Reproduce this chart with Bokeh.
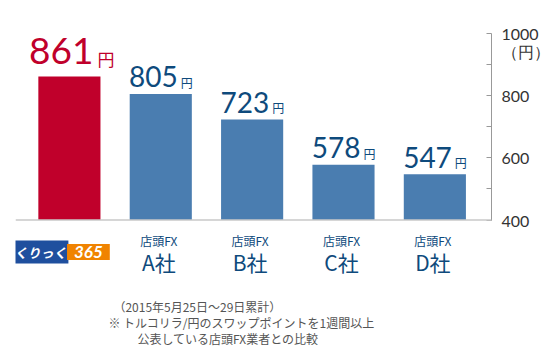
from bokeh.plotting import figure
from bokeh.models import Range1d, LinearAxis, FixedTicker, Span
from bokeh.core.properties import value
from bokeh.embed import file_html
from bokeh.resources import INLINE

# ---- data ----
categories = ["くりっく365", "店頭FX A社", "店頭FX B社", "店頭FX C社", "店頭FX D社"]
values = [861, 805, 723, 578, 547]
providers = ["", "店頭FX", "店頭FX", "店頭FX", "店頭FX"]
companies = ["", "A社", "B社", "C社", "D社"]
y_ticks = [400, 600, 800, 1000]
y_minor = [500, 700, 900]
unit = "円"
unit_label = "（円）"
logo_parts = ["くりっく", "365"]
footnotes = ["（2015年5月25日～29日累計）",
             "※ トルコリラ/円のスワップポイントを1週間以上",
             "公表している店頭FX業者との比較"]

# ---- style ----
RED = "#c0002b"
BLUE = "#4a7db0"
NAVY = "#0e4a7c"
GREY_TXT = "#555555"
JP = value("Noto Sans CJK JP")
NUM = value("Lato")

PX = (219.6 - 32.7) / (y_ticks[-1] - y_ticks[0])   # pixels per yen
y_start = y_ticks[0] - (353 - 219.6) / PX
y_end = y_ticks[-1] + 32.7 / PX

xs = list(range(len(categories)))
base = y_ticks[0]

p = figure(width=552, height=353, x_range=Range1d(-0.59, 4.62),
           y_range=Range1d(y_start, y_end), output_backend="svg",
           toolbar_location=None, x_axis_location=None, y_axis_location=None,
           min_border_left=15, min_border_right=60, min_border_top=0,
           min_border_bottom=0)
p.outline_line_color = None
p.background_fill_color = "white"
p.border_fill_color = "white"
for g in p.grid:
    g.visible = False

# bars
colors = [RED] + [BLUE] * (len(values) - 1)
p.vbar(x=xs, top=values, bottom=base, width=0.68, color=colors, line_color=None)

# baseline
p.add_layout(Span(location=base, dimension="width", line_color="#c8c8c8", line_width=1.5))

# right axis (unit caption rides on an extra label position just under the top tick)
unit_pos = round(y_ticks[-1] - 18.5 / PX)
ax = LinearAxis(ticker=FixedTicker(ticks=y_ticks + [unit_pos],
                                   minor_ticks=sorted(y_ticks + y_minor)),
                bounds=(y_ticks[0], y_ticks[-1]))
ax.major_label_overrides = {unit_pos: unit_label}
ax.axis_line_color = "#999999"
ax.minor_tick_line_color = "#999999"
ax.major_tick_line_color = None
ax.major_tick_in = 0
ax.major_tick_out = 0
ax.minor_tick_in = 5
ax.minor_tick_out = 0
ax.major_label_standoff = 10
ax.major_label_text_font = "Lato"
ax.major_label_text_font_size = "16px"
ax.major_label_text_color = "#333333"
p.add_layout(ax, "right")

# value labels
p.text(x=xs[:1], y=values[:1], text=[str(v) for v in values[:1]],
       text_align="right", text_baseline="middle", x_offset=24, y_offset=-25,
       text_font=NUM, text_font_size="37px", text_color=RED)
p.text(x=xs[:1], y=values[:1], text=[unit], text_align="left",
       text_baseline="middle", x_offset=28, y_offset=-18,
       text_font=JP, text_font_size="17px", text_color=RED)
p.text(x=xs[1:], y=values[1:], text=[str(v) for v in values[1:]],
       text_align="right", text_baseline="middle", x_offset=17, y_offset=-17,
       text_font=NUM, text_font_size="28px", text_color=NAVY)
p.text(x=xs[1:], y=values[1:], text=[unit] * (len(values) - 1), text_align="left",
       text_baseline="middle", x_offset=20, y_offset=-11.5,
       text_font=JP, text_font_size="12px", text_color=NAVY)

# category labels
p.text(x=xs[1:], y=[base] * 4, text=providers[1:], text_align="center",
       text_baseline="middle", y_offset=20, x_offset=-2,
       text_font=JP, text_font_size="12px", text_color=NAVY)
p.text(x=xs[1:], y=[base] * 4, text=companies[1:], text_align="center",
       text_baseline="middle", y_offset=42, x_offset=-2,
       text_font=JP, text_font_size="21px", text_color=NAVY)

# logo for くりっく365
p.text(x=xs[:1], y=[base], text=[logo_parts[0]], text_align="center",
       text_baseline="middle", x_offset=-29, y_offset=32,
       text_font=JP, text_font_size="13px", text_font_style="bold italic",
       text_color="white", background_fill_color="#1f4f9e", padding=(2, 2))
p.text(x=xs[:1], y=[base], text=[logo_parts[1]], text_align="center",
       text_baseline="middle", x_offset=19, y_offset=32,
       text_font=NUM, text_font_size="17px", text_font_style="bold italic",
       text_color="white", background_fill_color="#f08300", padding=(7, 2))

# footnotes
for t, dx, dy in zip(footnotes, [44, 39, 68], [86, 102.5, 118.5]):
    p.text(x=xs[:1], y=[base], text=[t], text_align="left", text_baseline="middle",
           x_offset=dx, y_offset=dy, text_font=JP, text_font_size="12px",
           text_color=GREY_TXT)

open("out.html", "w").write(file_html(p, INLINE))
